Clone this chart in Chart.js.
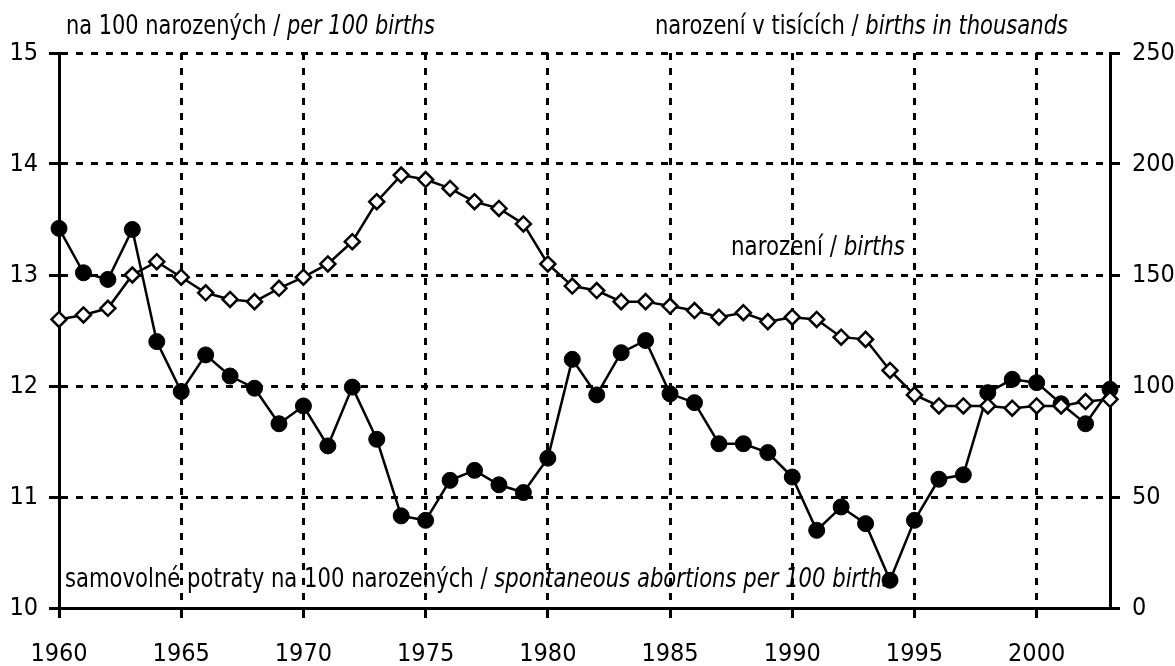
<!DOCTYPE html>
<html>
<head>
<meta charset="utf-8">
<script src="https://cdn.jsdelivr.net/npm/chart.js@4"></script>
<style>
html,body{margin:0;padding:0;background:#fff;}
#wrap{width:1175px;height:666px;position:relative;}
</style>
</head>
<body>
<div id="wrap"><canvas id="c" width="1175" height="666"></canvas></div>
<script>
const years = [1960,1961,1962,1963,1964,1965,1966,1967,1968,1969,1970,1971,1972,1973,1974,1975,1976,1977,1978,1979,1980,1981,1982,1983,1984,1985,1986,1987,1988,1989,1990,1991,1992,1993,1994,1995,1996,1997,1998,1999,2000,2001,2002,2003];
const abortionsPer100 = [13.42,13.02,12.96,13.41,12.40,11.95,12.28,12.09,11.98,11.66,11.82,11.46,11.99,11.52,10.83,10.79,11.15,11.24,11.11,11.04,11.35,12.24,11.92,12.30,12.41,11.93,11.85,11.48,11.48,11.40,11.18,10.70,10.91,10.76,10.25,10.79,11.16,11.20,11.94,12.06,12.03,11.84,11.66,11.97];
const birthsThousands = [130,132,135,150,156,149,142,139,138,144,149,155,165,183,195,193,189,183,180,173,155,145,143,138,138,136,134,131,133,129,131,130,122,121,107,96,91,91,91,90,91,91,93,94];
const leftTicks = [10,11,12,13,14,15];
const rightTicks = [0,50,100,150,200,250];
const xTicks = [1960,1965,1970,1975,1980,1985,1990,1995,2000];
const labels = {
  leftTitle: ["na 100 narozených / ", "per 100 births"],
  rightTitle: ["narození v tisících / ", "births in thousands"],
  births: ["narození / ", "births"],
  abortions: ["samovolné potraty na 100 narozených / ", "spontaneous abortions per 100 births"]
};

const FONT = '"Liberation Sans Narrow","Arial Narrow","DejaVu Sans Condensed",sans-serif';
const FS = 25;
const TFS = 27;

// draw normal + italic text, squeezed horizontally to a target width (narrow face look)
function drawMixed(ctx, parts, x, y, targetW) {
  ctx.save();
  ctx.fillStyle = '#000';
  ctx.textBaseline = 'middle';
  ctx.textAlign = 'left';
  ctx.font = TFS + 'px ' + FONT;
  const w0 = ctx.measureText(parts[0]).width;
  ctx.font = 'italic ' + TFS + 'px ' + FONT;
  const w1 = ctx.measureText(parts[1]).width;
  const sx = Math.min(1, targetW / (w0 + w1));
  ctx.translate(x, y);
  ctx.scale(sx, 1);
  ctx.font = TFS + 'px ' + FONT;
  ctx.fillText(parts[0], 0, 0);
  ctx.font = 'italic ' + TFS + 'px ' + FONT;
  ctx.fillText(parts[1], w0, 0);
  ctx.restore();
}

const textPlugin = {
  id: 'texts',
  beforeDraw(chart) {
    const ctx = chart.ctx;
    ctx.save();
    ctx.fillStyle = '#fff';
    ctx.fillRect(0, 0, chart.width, chart.height);
    ctx.restore();
    drawMixed(ctx, labels.leftTitle, 66, 27, 369);
    drawMixed(ctx, labels.rightTitle, 655, 27, 413);
    drawMixed(ctx, labels.births, 731, 248, 174);
    drawMixed(ctx, labels.abortions, 65, 580, 828);
  }
};

const abData = years.map((y, i) => ({x: y, y: abortionsPer100[i]}));
const biData = years.map((y, i) => ({x: y, y: birthsThousands[i]}));

new Chart(document.getElementById('c'), {
  type: 'line',
  data: {
    datasets: [
      {
        label: 'births',
        data: biData,
        yAxisID: 'y2',
        borderColor: '#000',
        borderWidth: 2.5,
        pointStyle: 'rectRot',
        pointRadius: 7.5,
        pointBorderWidth: 2.5,
        pointBackgroundColor: '#fff',
        pointBorderColor: '#000',
        tension: 0,
        clip: false,
        order: 1
      },
      {
        label: 'abortions',
        data: abData,
        yAxisID: 'y',
        borderColor: '#000',
        borderWidth: 2.5,
        pointStyle: 'circle',
        pointRadius: 8,
        pointBorderWidth: 1,
        pointBackgroundColor: '#000',
        pointBorderColor: '#000',
        tension: 0,
        clip: false,
        order: 2
      }
    ]
  },
  options: {
    responsive: false,
    animation: false,
    layout: {padding: {top: 53, left: 0, right: 0, bottom: 0}},
    plugins: {legend: {display: false}, tooltip: {enabled: false}},
    scales: {
      x: {
        type: 'linear',
        min: 1960,
        max: 2003,
        afterFit(s) { s.height = 58; },
        afterBuildTicks(s) { s.ticks = xTicks.map(v => ({value: v})); },
        ticks: {
          font: {family: FONT, size: FS},
          color: '#000',
          padding: 21,
          maxRotation: 0,
          autoSkip: false,
          callback: v => String(v)
        },
        grid: {
          color: c => (c.tick && c.tick.value === 1960) ? 'rgba(0,0,0,0)' : '#000',
          lineWidth: 3,
          tickColor: '#000',
          tickLength: 10,
          tickWidth: 3,
          tickBorderDash: []
        },
        border: {display: true, color: '#000', width: 3, dash: [7, 8]}
      },
      y: {
        position: 'left',
        min: 10,
        max: 15,
        afterFit(s) { s.width = 59; },
        afterBuildTicks(s) { s.ticks = leftTicks.map(v => ({value: v})); },
        ticks: {
          font: {family: FONT, size: FS},
          color: '#000',
          padding: 11,
          callback: v => String(v)
        },
        grid: {
          color: c => (c.tick && c.tick.value === 10) ? 'rgba(0,0,0,0)' : '#000',
          lineWidth: 3,
          tickColor: '#000',
          tickLength: 10,
          tickWidth: 3,
          tickBorderDash: []
        },
        border: {display: true, color: '#000', width: 3, dash: [7, 8]}
      },
      y2: {
        position: 'right',
        min: 0,
        max: 250,
        afterFit(s) { s.width = 65; },
        afterBuildTicks(s) { s.ticks = rightTicks.map(v => ({value: v})); },
        ticks: {
          font: {family: FONT, size: FS},
          color: '#000',
          padding: 12,
          callback: v => String(v)
        },
        grid: {
          drawOnChartArea: false,
          color: '#000',
          lineWidth: 3,
          tickColor: '#000',
          tickLength: 10,
          tickWidth: 3
        },
        border: {display: true, color: '#000', width: 3}
      }
    }
  },
  plugins: [textPlugin]
});
</script>
</body>
</html>
